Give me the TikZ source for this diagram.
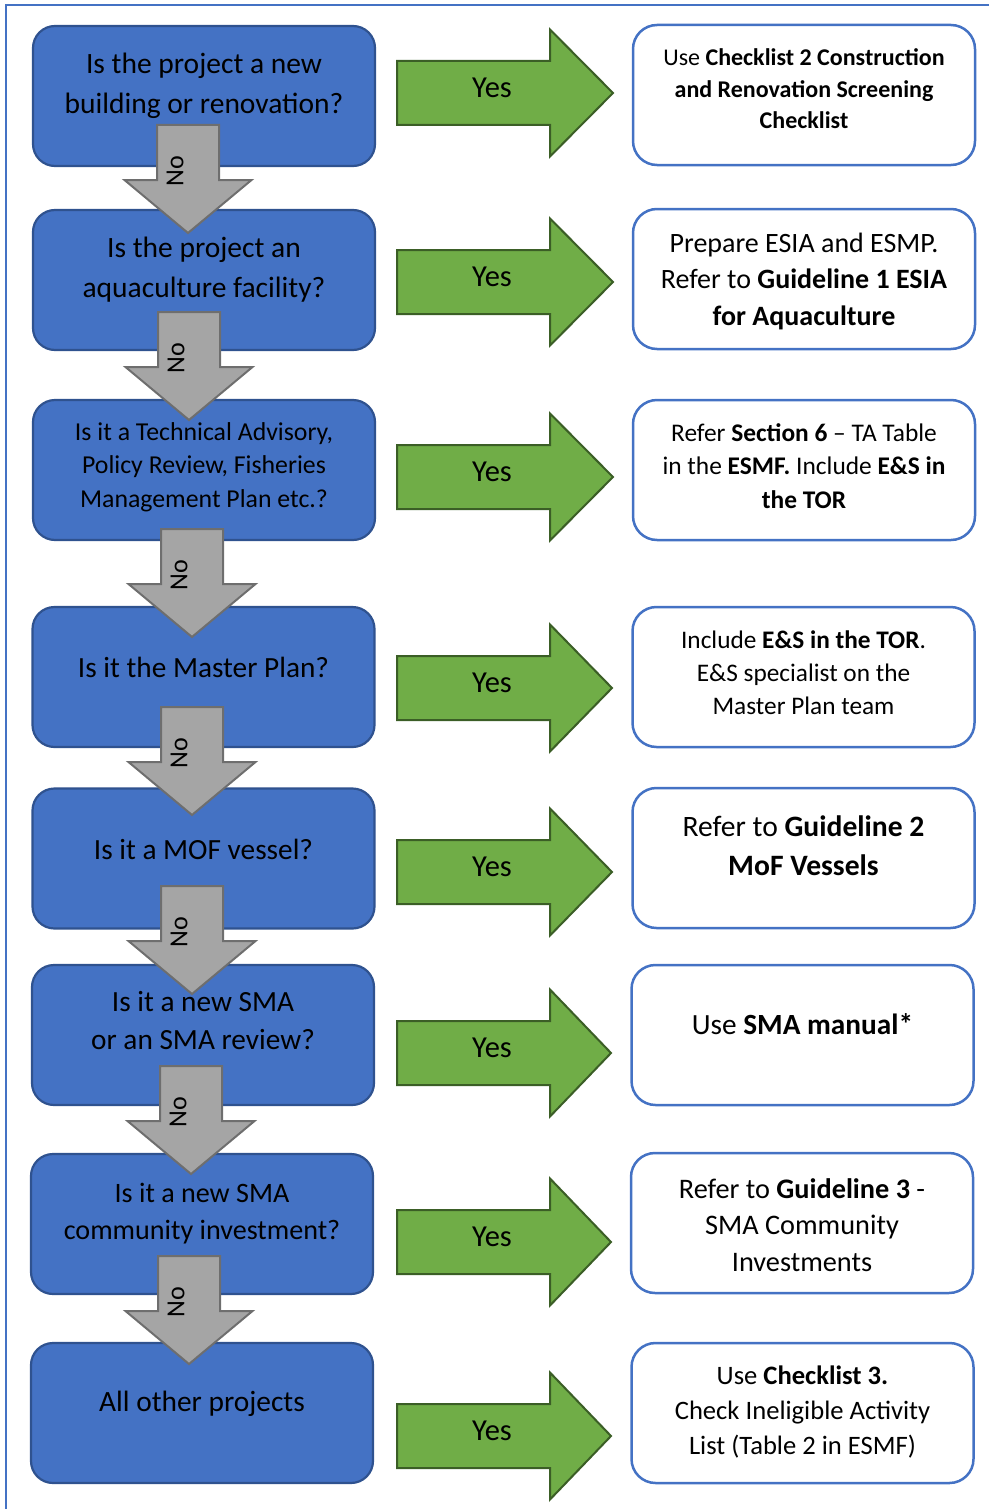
\documentclass[tikz,border=0pt]{standalone}
\usepackage{fontspec}
\setmainfont{Carlito}
\definecolor{bfill}{HTML}{4472C4}
\definecolor{bdraw}{HTML}{2F528F}
\definecolor{gfill}{HTML}{70AD47}
\definecolor{gdraw}{HTML}{3B5E26}
\definecolor{afill}{HTML}{A5A5A5}
\definecolor{adraw}{HTML}{6E6E6E}
\tikzset{
  qbox/.style={draw=bdraw, fill=bfill, line width=2.2pt, rounded corners=22pt, inner sep=0pt, minimum width=342pt, minimum height=140pt},
  abox/.style={draw=bfill, fill=white, line width=2.5pt, rounded corners=24pt, inner sep=0pt, minimum width=342pt, minimum height=140pt},
  qtext/.style={text=black, align=center, inner sep=0pt, font=\fontsize{29.5}{40}\selectfont},
  atext/.style={text=black, align=center, inner sep=0pt},
  yarrow/.style={draw=gdraw, fill=gfill, line width=2pt, line join=miter},
  garrow/.style={draw=adraw, fill=afill, line width=2pt, line join=miter},
  yestext/.style={text=black, inner sep=0pt, font=\fontsize{30.5}{34}\selectfont},
  notext/.style={text=black, inner sep=0pt, font=\fontsize{26}{30}\selectfont},
}
\newcommand\noarrow[3]{%
  \draw[garrow] (#1,#2) -- ++(62,0) -- ++(0,55) -- ++(32.5,0) -- ({#1+31},{#2+108}) -- ({#1-32.5},{#2+55}) -- ++(32.5,0) -- cycle;
  \node[notext, rotate=90] (#3) at ({#1+18},{#2+46}) {No};
}
\newcommand\yesarrow[3]{%
  \draw[yarrow] (397,{#1-32}) -- (550,{#1-32}) -- (550,{#1-63.5}) -- (#3,#1) -- (550,{#1+63.5}) -- (550,{#1+32}) -- (397,{#1+32}) -- cycle;
  \node[yestext] (#2) at (492,{#1-5}) {Yes};
}
\begin{document}
\begin{tikzpicture}[x=1pt,y=-1pt]
\useasboundingbox (0,0) rectangle (989,1509);
\draw[bfill, line width=2pt] (989,5) -- (6,5) -- (6,1509);

% question boxes
\node[qbox] (q1) at (204,96) {};
\node[qbox] (q2) at (204,280) {};
\node[qbox] (q3) at (204,470) {};
\node[qbox] (q4) at (203.5,677) {};
\node[qbox] (q5) at (203.5,858.5) {};
\node[qbox] (q6) at (203,1035) {};
\node[qbox] (q7) at (202,1224) {};
\node[qbox] (q8) at (202,1413) {};

% answer boxes
\node[abox] (a1) at (804,95) {};
\node[abox] (a2) at (804,279) {};
\node[abox] (a3) at (804,470) {};
\node[abox] (a4) at (803.5,677) {};
\node[abox] (a5) at (803.5,858) {};
\node[abox] (a6) at (802.5,1035) {};
\node[abox] (a7) at (802,1223) {};
\node[abox] (a8) at (802.5,1413) {};

% yes arrows
\yesarrow{93}{y1}{613}
\yesarrow{282}{y2}{613}
\yesarrow{477}{y3}{613}
\yesarrow{688}{y4}{612}
\yesarrow{872}{y5}{612}
\yesarrow{1053}{y6}{611}
\yesarrow{1242}{y7}{611}
\yesarrow{1436}{y8}{611}

% no arrows
\noarrow{157}{125}{n1}
\noarrow{158}{312}{n2}
\noarrow{161}{529}{n3}
\noarrow{161}{707}{n4}
\noarrow{161}{886}{n5}
\noarrow{160}{1066}{n6}
\noarrow{158}{1256}{n7}

% question texts
\node[qtext] (tq1) at (204,86) {Is the project a new\\building or renovation?};
\node[qtext] (tq2) at (204,270) {Is the project an\\aquaculture facility?};
\node[qtext, font=\fontsize{25.8}{33.5}\selectfont] (tq3) at (204,467) {Is it a Technical Advisory,\\Policy Review, Fisheries\\Management Plan etc.?};
\node[qtext, font=\fontsize{29.3}{40}\selectfont] (tq4) at (203.5,667) {Is it the Master Plan?};
\node[qtext, font=\fontsize{29.3}{40}\selectfont] (tq5) at (203.5,849) {Is it a MOF vessel?};
\node[qtext, font=\fontsize{29.3}{38}\selectfont] (tq6) at (203,1021) {Is it a new SMA\\or an SMA review?};
\node[qtext, font=\fontsize{28.1}{37}\selectfont] (tq7) at (202,1214) {Is it a new SMA\\community investment?};
\node[qtext, font=\fontsize{29.4}{40}\selectfont] (tq8) at (202,1404) {All other projects};

% answer texts
\node[atext, font=\fontsize{24}{31.5}\selectfont] (ta1) at (804,89) {Use \textbf{Checklist 2 Construction}\\\textbf{and Renovation Screening}\\\textbf{Checklist}};
\node[atext, font=\fontsize{28}{36.5}\selectfont] (ta2) at (804,281) {Prepare ESIA and ESMP.\\Refer to \textbf{Guideline 1 ESIA}\\\textbf{for Aquaculture}};
\node[atext, font=\fontsize{25.4}{33.5}\selectfont] (ta3) at (804,466) {Refer \textbf{Section 6} -- TA Table\\in the \textbf{ESMF.} Include \textbf{E\&S in}\\\textbf{the TOR}};
\node[atext, font=\fontsize{25.3}{33}\selectfont] (ta4) at (803.5,673) {Include \textbf{E\&S in the TOR}.\\E\&S specialist on the\\Master Plan team};
\node[atext, font=\fontsize{29.6}{39}\selectfont] (ta5) at (803.5,846) {Refer to \textbf{Guideline 2}\\\textbf{MoF Vessels}};
\node[atext, font=\fontsize{29.3}{39}\selectfont] (ta6) at (802.5,1024) {Use \textbf{SMA manual*}};
\node[atext, font=\fontsize{28.3}{36.5}\selectfont] (ta7) at (802,1225) {Refer to \textbf{Guideline 3} -\\SMA Community\\Investments};
\node[atext, font=\fontsize{26.6}{35}\selectfont] (ta8) at (802.5,1412) {Use \textbf{Checklist 3.}\\Check Ineligible Activity\\List (Table 2 in ESMF)};
\end{tikzpicture}
\end{document}
